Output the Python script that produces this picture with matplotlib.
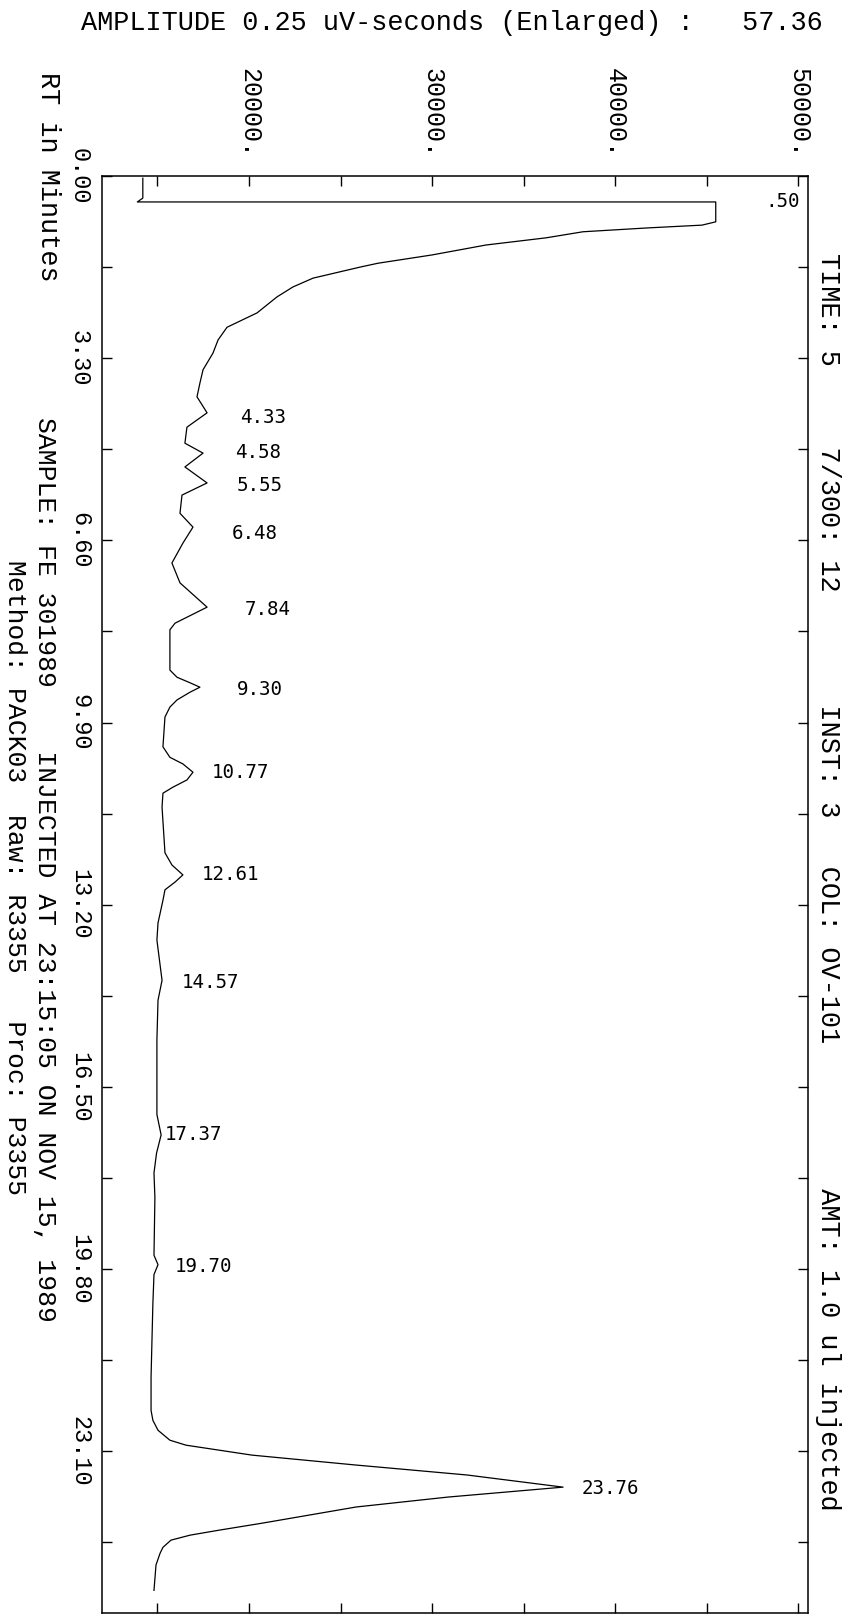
import matplotlib
matplotlib.use("Agg")
import matplotlib.pyplot as plt

W, H = 847, 1616

# chromatogram trace: retention time (min) and amplitude
rt = [0.04, 0.40, 0.47, 0.47, 0.83, 0.89, 0.94, 1.01, 1.12, 1.25, 1.43, 1.58,
      1.65, 1.85, 2.01, 2.19, 2.48, 2.74, 2.97, 3.21, 3.51, 3.75, 4.00, 4.29,
      4.55, 4.84, 5.02, 5.27, 5.56, 5.78, 6.11, 6.36, 6.65, 7.01, 7.37, 7.81,
      8.10, 8.22, 8.59, 8.95, 9.08, 9.18, 9.26, 9.35, 9.49, 9.62, 9.80, 10.34,
      10.53, 10.65, 10.80, 10.94, 11.07, 11.18, 11.43, 12.26, 12.48, 12.66,
      12.79, 12.93, 13.12, 13.53, 13.84, 14.57, 14.93, 15.65, 17.00, 17.37,
      17.70, 18.06, 18.50, 19.55, 19.72, 19.90, 20.42, 21.76, 22.36, 22.54,
      22.72, 22.90, 22.99, 23.17, 23.35, 23.53, 23.75, 23.93, 24.11, 24.40,
      24.53, 24.62, 24.71, 24.84, 24.95, 25.16, 25.62]
amp = [14200, 14200, 13900, 45500, 45500, 44750, 41800, 38250, 36230, 32950,
       30000, 27050, 26070, 23500, 22400, 21530, 20440, 18800, 18310, 18030,
       17490, 17320, 17160, 17710, 16610, 16500, 17490, 16500, 17710, 16340,
       16230, 16940, 16390, 15790, 16230, 17710, 15960, 15680, 15680, 15680,
       16070, 16780, 17320, 16780, 16070, 15680, 15410, 15300, 15680, 16390,
       16940, 16610, 15850, 15300, 15250, 15410, 15790, 16390, 15960, 15410,
       15300, 15030, 14970, 15250, 15030, 14970, 14970, 15200, 14950, 14810,
       14860, 14810, 15030, 14810, 14750, 14650, 14650, 14750, 15030, 15680,
       16560, 20160, 25850, 31910, 37160, 30870, 25850, 20770, 18360, 16780,
       15740, 15300, 15140, 14920, 14810]

# peak labels as printed by the integrator
peak_labels = [".50", "4.33", "4.58", "5.55", "6.48", "7.84", "9.30", "10.77",
               "12.61", "14.57", "17.37", "19.70", "23.76"]
label_rt = [0.47, 4.37, 5.00, 5.60, 6.47, 7.86, 9.31, 10.80, 12.66, 14.60,
            17.37, 19.76, 23.77]
label_amp = [48200, 19500, 19240, 19340, 19070, 19780, 19340, 17980, 17430,
             16340, 15410, 15960, 38200]

rt_major = [0.0, 3.3, 6.6, 9.9, 13.2, 16.5, 19.8, 23.1]
rt_major_labels = ["0.00", "3.30", "6.60", "9.90", "13.20", "16.50", "19.80", "23.10"]
rt_minor = [1.65, 4.95, 8.25, 11.55, 14.85, 18.15, 21.45, 24.75]
amp_major = [20000, 30000, 40000, 50000]
amp_major_labels = ["20000.", "30000.", "40000.", "50000."]
amp_minor = [15000, 25000, 35000, 45000]

title = "AMPLITUDE 0.25 uV-seconds (Enlarged) :   57.36"
rt_title = "RT in Minutes"
sample_line = "SAMPLE: FE 301989    INJECTED AT 23:15:05 ON NOV 15, 1989"
method_line = "Method: PACK03  Raw: R3355   Proc: P3355"
info_line = "TIME: 5     7/300: 12       INST: 3   COL: OV-101         AMT: 1.0 ul injected"

MONO = "Liberation Mono"

fig = plt.figure(figsize=(W / 100, H / 100), dpi=100)
ax = fig.add_axes([102 / W, 1 - 1613 / H, 706 / W, 1437 / H])

ax.plot(amp, rt, color="black", lw=0.9)
ax.set_xlim(11970, 50540)
ax.set_ylim(26.03, 0)

for s in ax.spines.values():
    s.set_linewidth(1.1)

ax.set_yticks(rt_major)
ax.set_yticklabels(rt_major_labels)
ax.set_yticks(rt_minor, minor=True)
ax.set_xticks(amp_major)
ax.set_xticklabels(amp_major_labels)
ax.set_xticks(amp_minor, minor=True)

ax.tick_params(which="both", direction="in", length=7, width=1,
               top=True, bottom=True, left=True, right=True,
               labeltop=True, labelbottom=False, labelleft=True, labelright=False)
ax.tick_params(axis="x", pad=13, labelrotation=-90)
ax.tick_params(axis="y", pad=8, labelrotation=-90)
for t in ax.yaxis.get_major_ticks():
    t.label1.set_va("center")
    t.label1.set_fontfamily(MONO)
    t.label1.set_fontsize(17)
for t in ax.xaxis.get_major_ticks():
    t.label2.set_fontfamily(MONO)
    t.label2.set_fontsize(18)

for lab, y, x in zip(peak_labels, label_rt, label_amp):
    ax.text(x, y, lab, ha="left", va="center", fontsize=13.75,
            family="DejaVu Sans Mono")

# header and margin notes, rotated like the plotter output
fig.text(81 / W, 1 - 23 / H, title, ha="left", va="center", fontsize=19.4, family=MONO)
fig.text(48 / W, 1 - 72 / H, rt_title, rotation=-90, ha="center", va="top",
         fontsize=19.4, family=MONO)
fig.text(45 / W, 1 - 417 / H, sample_line, rotation=-90, ha="center", va="top",
         fontsize=19, family=MONO)
fig.text(15 / W, 1 - 560 / H, method_line, rotation=-90, ha="center", va="top",
         fontsize=19, family=MONO)
fig.text(828 / W, 1 - 253 / H, info_line, rotation=-90, ha="center", va="top",
         fontsize=19.4, family=MONO)

fig.savefig("out.png", dpi=100)
